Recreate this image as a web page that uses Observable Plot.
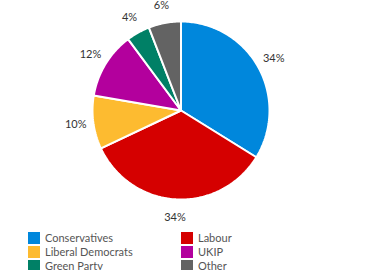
<!DOCTYPE html>
<html>
<head>
<meta charset="utf-8">
<script src="https://cdn.jsdelivr.net/npm/d3@7"></script>
<script src="https://cdn.jsdelivr.net/npm/@observablehq/plot@0.6"></script>
<style>
  body { margin: 0; background: #fff; font-family: Lato, "Open Sans", sans-serif; }
  #legend { display: grid; grid-template-columns: 153px 150px; margin-left: 28px; row-gap: 3px; margin-top: 2px; }
  .item { display: flex; align-items: center; font-size: 11px; color: #555; height: 11px; line-height: 11px; }
  .sw { width: 12px; height: 12px; margin-right: 5px; flex: none; }
</style>
</head>
<body>
<div id="chart"></div>
<div id="legend"></div>
<script>
const parties = ["Conservatives", "Labour", "Liberal Democrats", "UKIP", "Green Party", "Other"];
const shares = [33.8, 34.2, 9.7, 12.1, 4.3, 5.9];
const labels = ["34%", "34%", "10%", "12%", "4%", "6%"];
const colors = ["#0087dc", "#d50000", "#fdbb30", "#b3009d", "#008066", "#636363"];

const data = parties.map((p, i) => ({party: p, share: shares[i], label: labels[i]}));
const arcs = d3.pie().sort(null).value(d => d.share)(data);

// Build slice polygons (unit circle) from pie angles
const pts = [];
arcs.forEach(a => {
  pts.push({party: a.data.party, x: 0, y: 0});
  const n = Math.max(2, Math.ceil((a.endAngle - a.startAngle) / (Math.PI / 180)));
  for (let k = 0; k <= n; k++) {
    const t = a.startAngle + (a.endAngle - a.startAngle) * k / n;
    pts.push({party: a.data.party, x: Math.sin(t), y: Math.cos(t)});
  }
  pts.push({party: a.data.party, x: 0, y: 0});
});
const lab = arcs.map(a => {
  const t = (a.startAngle + a.endAngle) / 2;
  return {label: a.data.label, x: 1.2 * Math.sin(t), y: 1.2 * Math.cos(t)};
});

const plot = Plot.plot({
  width: 373,
  height: 230,
  marginLeft: 92,
  marginRight: 104,
  marginTop: 21,
  marginBottom: 31,
  x: {domain: [-1, 1], axis: null},
  y: {domain: [-1, 1], axis: null},
  color: {domain: parties, range: colors},
  style: {fontFamily: "Lato, 'Open Sans', sans-serif", background: "transparent", overflow: "visible"},
  marks: [
    Plot.line(pts, {x: "x", y: "y", z: "party", fill: "party", stroke: "white", strokeWidth: 2, strokeLinejoin: "miter", curve: "linear-closed"}),
    Plot.text(lab, {x: "x", y: "y", text: "label", fontSize: 11, fill: "#333"})
  ]
});
document.getElementById("chart").appendChild(plot);

const legend = document.getElementById("legend");
parties.forEach((p, i) => {
  const d = document.createElement("div");
  d.className = "item";
  d.innerHTML = `<span class="sw" style="background:${colors[i]}"></span><span>${p}</span>`;
  legend.appendChild(d);
});
</script>
</body>
</html>
